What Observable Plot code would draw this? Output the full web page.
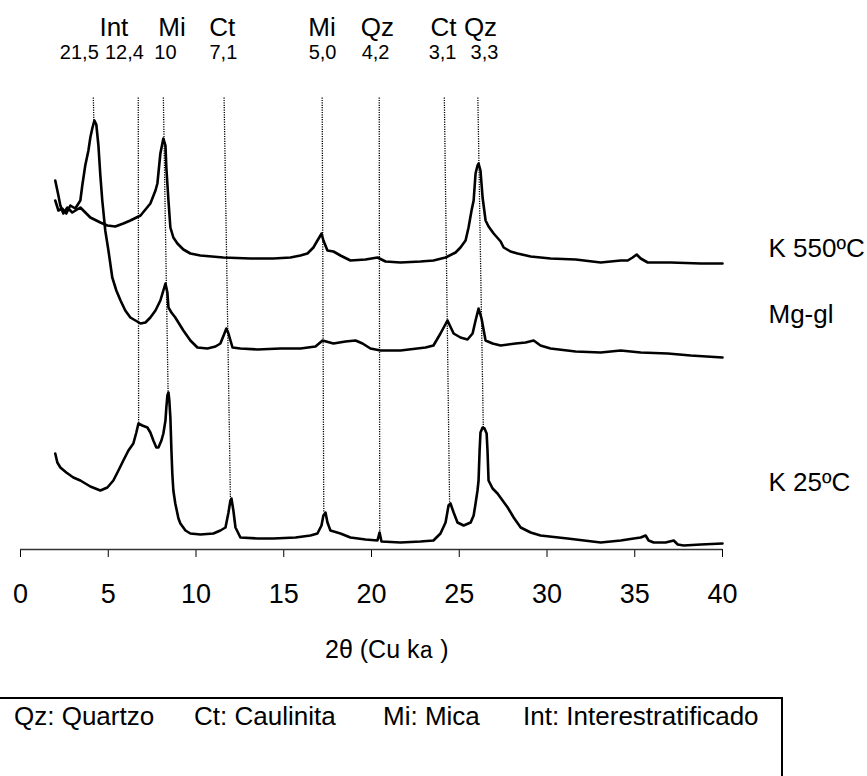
<!DOCTYPE html>
<html>
<head>
<meta charset="utf-8">
<script src="https://cdn.jsdelivr.net/npm/d3@7"></script>
<script src="https://cdn.jsdelivr.net/npm/@observablehq/plot@0.6"></script>
<style>
  html, body { margin: 0; padding: 0; background: #fff; }
  body { width: 867px; height: 776px; position: relative; overflow: hidden; font-family: Arial, "Liberation Sans", sans-serif; }
  #chart { position: absolute; left: 0; top: 0; }
  #legendBox { position: absolute; left: -10px; top: 697px; width: 793px; height: 110px; border: 2px solid #000; box-sizing: border-box; }
  .leg { position: absolute; top: 703px; font-size: 26px; line-height: 26px; white-space: pre; color: #000; }
</style>
</head>
<body>
<div id="chart"></div>
<div id="legendBox"></div>
<span class="leg" style="left:14px">Qz: Quartzo</span>
<span class="leg" style="left:194px">Ct: Caulinita</span>
<span class="leg" style="left:383px">Mi: Mica</span>
<span class="leg" style="left:523px">Int: Interestratificado</span>
<script>
// ---- Data (2θ in degrees, intensity in arbitrary counts) ----
const thetaK550 = [1.98,2.16,2.27,2.44,2.67,2.95,3.41,3.98,4.55,4.95,5.40,5.86,6.26,6.84,7.40,7.69,7.80,7.97,8.14,8.26,8.31,8.43,8.54,8.71,8.94,9.28,9.68,10.25,11.56,13.10,14.41,15.38,15.95,16.35,16.69,16.92,17.09,17.15,17.26,17.49,17.83,18.23,18.80,19.66,20.34,20.80,21.65,22.79,23.53,24.22,24.79,25.07,25.36,25.53,25.70,25.82,25.93,26.04,26.10,26.21,26.33,26.50,26.67,26.96,27.36,27.53,27.92,28.32,29.07,30.20,31.63,33.06,34.20,34.60,34.88,35.11,35.34,35.74,37.05,38.76,40.0];
const intK550   = [369,354,344,336,342,337,342,332,327,324,323,326,329,334,346,359,366,396,411,404,382,349,322,312,306,300,296,294,292,291,291,292,294,296,302,309,314,316,309,299,298,294,289,290,292,288,287,288,289,292,297,302,309,322,339,349,376,384,386,379,352,329,323,316,308,302,298,296,293,291,290,287,289,289,292,295,291,287,287,286,286];

const thetaMg = [1.98,2.16,2.38,2.61,2.84,3.12,3.41,3.52,3.69,3.87,3.98,4.09,4.21,4.32,4.44,4.55,4.66,4.83,5.01,5.23,5.46,5.70,5.97,6.26,6.55,6.84,7.12,7.40,7.69,7.97,8.14,8.26,8.37,8.43,8.60,8.82,9.28,9.68,10.08,10.65,11.11,11.39,11.62,11.73,11.85,12.08,12.53,13.50,14.81,15.95,16.81,17.21,17.83,18.52,19.09,19.49,19.94,20.51,21.65,23.08,23.53,23.93,24.33,24.68,25.07,25.47,25.76,25.93,26.10,26.27,26.50,26.90,27.36,28.21,28.78,29.24,29.63,30.20,31.63,33.06,34.20,35.34,36.88,38.19,40.0];
const intMg   = [349,339,341,336,344,341,349,364,384,399,412,421,429,425,404,374,349,319,299,272,259,249,239,232,229,226,227,232,239,249,259,266,257,242,237,232,219,209,202,201,203,206,216,221,216,202,201,200,201,201,203,209,206,208,209,206,201,199,199,202,204,216,229,216,212,210,216,229,241,231,209,206,204,206,207,209,204,201,198,197,199,197,196,194,192];

const thetaK25 = [1.98,2.10,2.27,2.61,3.01,3.41,3.98,4.55,4.95,5.29,5.58,5.86,6.15,6.43,6.60,6.72,6.94,7.23,7.40,7.57,7.74,7.86,8.03,8.14,8.26,8.31,8.37,8.43,8.48,8.54,8.60,8.65,8.71,8.82,9.00,9.11,9.40,9.68,10.25,10.99,11.39,11.68,11.85,11.96,12.02,12.13,12.25,12.53,13.50,14.41,15.67,16.52,16.92,17.15,17.26,17.38,17.49,17.66,18.23,18.80,19.66,20.34,20.46,20.57,21.65,22.79,23.53,23.93,24.22,24.39,24.50,24.68,24.90,25.25,25.65,25.82,25.93,26.04,26.10,26.16,26.21,26.33,26.44,26.56,26.61,26.67,26.90,27.18,27.47,27.76,28.10,28.50,29.07,29.63,31.17,33.06,34.20,34.94,35.34,35.62,35.79,36.08,36.76,37.22,37.45,37.79,38.76,40.0];
const intK25   = [96,87,82,77,72,69,63,59,62,69,79,89,99,106,117,126,124,122,117,109,102,102,109,116,129,142,154,157,149,132,99,76,59,46,31,26,19,16,15,16,19,22,37,49,51,39,22,12,11,11,12,14,16,24,34,37,27,19,16,12,10,9,17,8,7,8,9,16,27,44,46,37,27,24,27,34,46,59,69,99,117,122,121,116,99,69,61,56,49,42,32,22,17,14,11,7,9,11,12,14,9,7,7,9,5,4,5,6];

// Sample labels (placed just past the right end of the axis) and the intensity of their baseline
const sampleNames = ["K 550ºC", "Mg-gl", "K 25ºC"];
const sampleLabelI = [293, 227, 59];

// Reflection guides: 2θ at top and bottom of each dotted guide, intensity at its bottom
const markTopT    = [4.15, 6.71, 8.14, 11.60, 17.19, 20.44, 24.15, 26.06];
const markBotT    = [4.18, 6.73, 8.41, 11.96, 17.28, 20.47, 24.45, 26.37];
const markBotI    = [429, 126, 157, 52, 37, 17, 46, 122];
const guideTopI   = 452;

// Header text rows above the plot (2θ anchors of text centres)
const headMineral  = ["Int", "Mi", "Ct", "Mi", "Qz", "Ct", "Qz"];
const headMineralT = [5.32, 8.63, 11.50, 17.18, 20.34, 24.10, 26.21];
const headD        = ["21,5", "12,4", "10", "7,1", "5,0", "4,2", "3,1", "3,3"];
const headDT       = [3.35, 5.92, 8.26, 11.56, 17.21, 20.23, 24.05, 26.44];

const xTicks = [0, 5, 10, 15, 20, 25, 30, 35, 40];

// ---- Build tables ----
const traces = [
  ...thetaK550.map((t, i) => ({theta: t, I: intK550[i], sample: sampleNames[0]})),
  ...thetaMg.map((t, i) => ({theta: t, I: intMg[i], sample: sampleNames[1]})),
  ...thetaK25.map((t, i) => ({theta: t, I: intK25[i], sample: sampleNames[2]}))
];
const guides = markTopT.map((t, i) => ({t1: t, t2: markBotT[i], i1: guideTopI, i2: markBotI[i]}));
const heads1 = headMineral.map((m, i) => ({text: m, t: headMineralT[i]}));
const heads2 = headD.map((d, i) => ({text: d, t: headDT[i]}));
const sampleLabels = sampleNames.map((n, i) => ({text: n, I: sampleLabelI[i]}));

const FONT = 'Arial, "Liberation Sans", sans-serif';

const plot = Plot.plot({
  width: 867,
  height: 680,
  marginLeft: 20,
  marginRight: 145,
  marginTop: 97,
  marginBottom: 131,
  style: {fontFamily: FONT, fontSize: "27px", color: "#000", background: "#fff", overflow: "visible"},
  x: {domain: [0, 40], ticks: xTicks, tickSize: 8, tickPadding: 26, tickFormat: d => String(d), label: null},
  y: {domain: [0, 452], axis: null},
  marks: [
    Plot.ruleY([0], {stroke: "#333", strokeWidth: 1.4}),
    Plot.link(guides, {x1: "t1", y1: "i1", x2: "t2", y2: "i2", stroke: "#000", strokeWidth: 1.3, strokeDasharray: "1.2,1.2"}),
    Plot.line(traces, {x: "theta", y: "I", z: "sample", stroke: "#000", strokeWidth: 2.6, strokeLinejoin: "round"}),
    Plot.text(heads1, {x: "t", text: "text", frameAnchor: "top", lineAnchor: "bottom", dy: -62, fontSize: 26, fill: "#000"}),
    Plot.text(heads2, {x: "t", text: "text", frameAnchor: "top", lineAnchor: "bottom", dy: -39, fontSize: 20, fill: "#000"}),
    Plot.text(sampleLabels, {x: 40, y: "I", text: "text", textAnchor: "start", lineAnchor: "bottom", dx: 46, fontSize: 26, fill: "#000"})
  ]
});

// Axis title with the kα glyph set in a different face, as in the original
const title = d3.select(plot).append("text")
  .attr("x", 325).attr("y", 658)
  .attr("text-anchor", "start")
  .attr("font-family", FONT).attr("font-size", 25).attr("fill", "#000");
title.append("tspan").text("2θ (Cu k");
title.append("tspan").attr("font-family", '"Liberation Mono", "DejaVu Sans Mono", monospace').attr("font-size", 23).text("a");
title.append("tspan").text(" )");

document.getElementById("chart").appendChild(plot);
</script>
</body>
</html>
